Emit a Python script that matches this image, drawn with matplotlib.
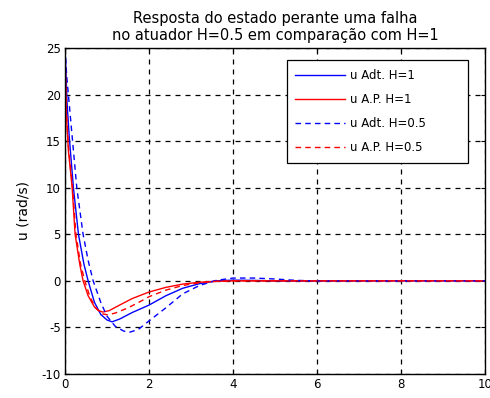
import matplotlib
matplotlib.use("Agg")
import matplotlib.pyplot as plt

plt.rcParams['font.family'] = ['DejaVu Sans']
plt.rcParams['axes.unicode_minus'] = False

# Control signal samples (time in s, u in rad/s)
t_adt_h1 = [0, 0.05, 0.1, 0.2, 0.32, 0.45, 0.55, 0.7, 0.85, 1.0, 1.12, 1.3, 1.6, 2.0, 2.4, 2.8, 3.2, 3.6, 4.0, 4.5, 5.0, 6.0, 10.0]
u_adt_h1 = [25, 19, 15.5, 10, 5, 1.8, 0, -2.3, -3.6, -4.2, -4.4, -4.1, -3.4, -2.6, -1.6, -0.8, -0.3, 0.0, 0.08, 0.05, 0.0, 0.0, 0.0]

t_ap_h1 = [0, 0.03, 0.08, 0.17, 0.24, 0.35, 0.43, 0.55, 0.7, 0.8, 0.9, 1.05, 1.3, 1.6, 2.0, 2.4, 2.8, 3.2, 3.6, 4.0, 5.0, 10.0]
u_ap_h1 = [25, 18, 14, 10, 5, 1.8, 0, -1.6, -2.8, -3.2, -3.35, -3.2, -2.6, -1.9, -1.2, -0.7, -0.35, -0.15, -0.05, 0.0, 0.0, 0.0]

t_adt_h05 = [0, 0.04, 0.08, 0.18, 0.28, 0.43, 0.55, 0.67, 0.85, 1.0, 1.2, 1.4, 1.55, 1.75, 2.0, 2.4, 2.8, 3.2, 3.6, 4.0, 4.5, 5.0, 5.5, 6.0, 10.0]
u_adt_h05 = [25, 22, 20, 15, 10, 5, 2.2, 0, -2.3, -3.8, -4.9, -5.4, -5.5, -5.2, -4.3, -2.9, -1.4, -0.5, 0.05, 0.3, 0.3, 0.2, 0.05, 0.0, 0.0]

t_ap_h05 = [0, 0.03, 0.08, 0.18, 0.26, 0.37, 0.47, 0.6, 0.75, 0.9, 1.02, 1.2, 1.5, 1.8, 2.0, 2.4, 2.8, 3.2, 3.6, 4.0, 5.0, 10.0]
u_ap_h05 = [25, 18.5, 14.5, 10, 5, 1.8, 0, -1.8, -3.0, -3.55, -3.65, -3.45, -2.9, -2.2, -1.7, -1.0, -0.5, -0.2, -0.05, 0.0, 0.0, 0.0]

fig = plt.figure(figsize=(4.9, 3.98), dpi=100)
ax = fig.add_axes([0.1327, 0.0603, 0.8571, 0.8191])

lw = 1.0
ax.plot(t_adt_h1, u_adt_h1, color='#0000ff', lw=lw, label='u Adt. H=1')
ax.plot(t_ap_h1, u_ap_h1, color='#ff0000', lw=lw, label='u A.P. H=1')
ax.plot(t_adt_h05, u_adt_h05, color='#0000ff', lw=lw, ls=(0, (4, 3)), label='u Adt. H=0.5')
ax.plot(t_ap_h05, u_ap_h05, color='#ff0000', lw=lw, ls=(0, (4, 3)), label='u A.P. H=0.5')

ax.set_xlim(0, 10)
ax.set_ylim(-10, 25)
ax.set_xticks([0, 2, 4, 6, 8, 10])
ax.set_yticks([-10, -5, 0, 5, 10, 15, 20, 25])
ax.grid(True, color='black', ls=(0, (4, 4)), lw=0.9)
ax.tick_params(direction='in', labelsize=8.5, length=3, width=0.8, top=True, right=True, pad=3)
for s in ax.spines.values():
    s.set_linewidth(1.0)

ax.set_title('Resposta do estado perante uma falha\nno atuador H=0.5 em comparação com H=1',
             fontsize=10.5, linespacing=1.1, pad=6)
ax.set_ylabel('u (rad/s)', fontsize=10, labelpad=8)
ax.set_xlabel('Tempo (s)', fontsize=10, labelpad=5)

leg = ax.legend(loc='upper left', bbox_to_anchor=(0.5286, 0.0, 0.431, 0.962), mode='expand',
                fontsize=8.5, frameon=True, fancybox=False, edgecolor='black', framealpha=1,
                handlelength=4.2, handletextpad=0.4, labelspacing=0.95,
                borderpad=0.7, borderaxespad=0)
leg.get_frame().set_linewidth(0.9)

fig.savefig('out.png', dpi=100)
